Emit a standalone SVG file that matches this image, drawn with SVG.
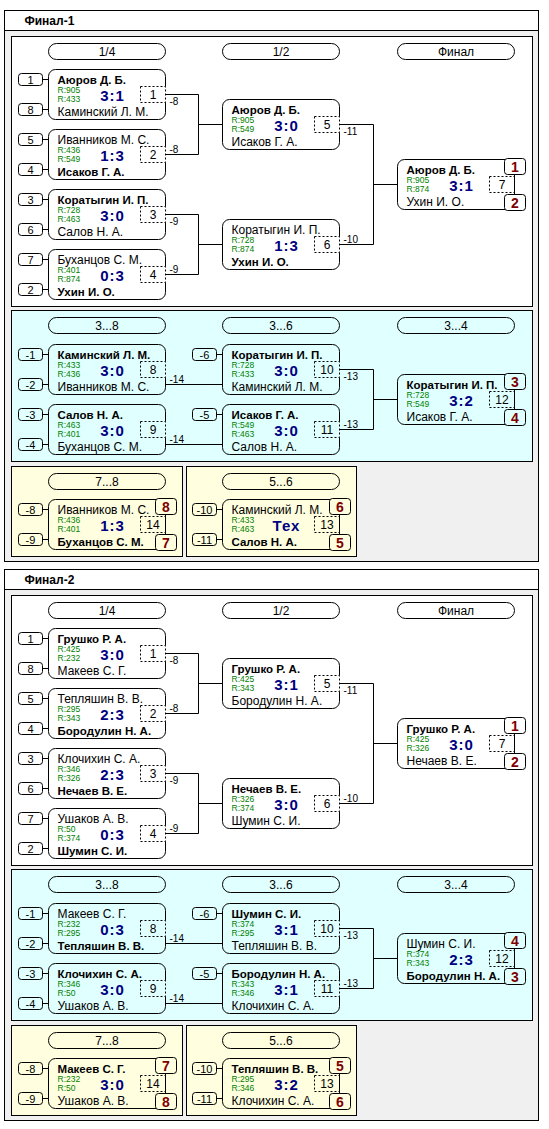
<svg xmlns="http://www.w3.org/2000/svg" width="549" height="1129" viewBox="0 0 549 1129">
<style>
text{font-family:"Liberation Sans",Arial,sans-serif;fill:#000}
.hd{font-size:12px;font-weight:bold}
.pt{font-size:12px;text-anchor:middle}
.w{font-size:11.5px;font-weight:bold}
.l{font-size:12px}
.r{font-size:8.5px;fill:#008000}
.sc{font-size:15px;font-weight:bold;fill:#000080;text-anchor:middle;letter-spacing:1px}
.n{font-size:12px;text-anchor:middle}
.sn{font-size:11px;text-anchor:middle}
.lb{font-size:10px}
.bn{font-size:14px;font-weight:bold;fill:#800000;text-anchor:middle}
.k{fill:none;stroke:#000;stroke-width:1}
.d{fill:none;stroke:#000;stroke-width:1;stroke-dasharray:2 2}
.bw{fill:#fff;stroke:#000}
.bc{fill:#e0ffff;stroke:#000}
.by{fill:#ffffe0;stroke:#000}
.pg{fill:#f0f0f0;stroke:#000}
.ph{fill:#fff;stroke:#000}
</style>
<defs>
<path id="mb" class="k" d="M117 17V7A7 7 0 0 0 110 0H7A7 7 0 0 0 0 7V43A7 7 0 0 0 7 50H110A7 7 0 0 0 117 43V33"/>
<rect id="mf" class="k" width="117" height="50" rx="7"/>
<rect id="nx" class="d" x="92" y="17" width="25" height="16"/>
<rect id="sd" class="k" width="24" height="12" rx="3"/>
<rect id="pl" class="k" width="117" height="16" rx="8"/>
</defs>
<g transform="translate(0.5 0.5)">
<!-- ================= FINAL 1 ================= -->
<g id="final1">
<g id="f1-frame">
<rect class="pg" x="4" y="10" width="534" height="551"/>
<rect class="ph" x="4" y="10" width="534" height="20"/>
<text class="hd" x="24" y="24">Финал-1</text>
<rect class="bw" x="11" y="36" width="521" height="270"/>
<rect class="bc" x="11" y="310" width="521" height="151"/>
<rect class="by" x="11" y="466" width="171" height="90"/>
<rect class="by" x="186" y="466" width="170" height="90"/>
</g>
<g id="f1-headers">
<use href="#pl" x="48" y="43"/><text class="pt" x="106.5" y="55">1/4</text>
<use href="#pl" x="222" y="43"/><text class="pt" x="280.5" y="55">1/2</text>
<use href="#pl" x="397" y="43"/><text class="pt" x="455.5" y="55">Финал</text>
<use href="#pl" x="48" y="317"/><text class="pt" x="106.5" y="329">3...8</text>
<use href="#pl" x="222" y="317"/><text class="pt" x="280.5" y="329">3...6</text>
<use href="#pl" x="397" y="317"/><text class="pt" x="455.5" y="329">3...4</text>
<use href="#pl" x="48" y="473"/><text class="pt" x="106.5" y="485">7...8</text>
<use href="#pl" x="222" y="473"/><text class="pt" x="280.5" y="485">5...6</text>
</g>
<g id="f1-connectors">
<path class="k" d="M165 94H198V154H165M198 124H222"/>
<path class="k" d="M165 214H198V274H165M198 244H222"/>
<path class="k" d="M339 124H373V244H339M373 184H397"/>
<path class="k" d="M165 384H222M165 444H222"/>
<path class="k" d="M339 369H373V429H339M373 399H397"/>
<text class="lb" x="169" y="104">-8</text>
<text class="lb" x="169" y="152">-8</text>
<text class="lb" x="169" y="224">-9</text>
<text class="lb" x="169" y="272">-9</text>
<text class="lb" x="343" y="134">-11</text>
<text class="lb" x="343" y="242">-10</text>
<text class="lb" x="169" y="382">-14</text>
<text class="lb" x="169" y="442">-14</text>
<text class="lb" x="343" y="379">-13</text>
<text class="lb" x="343" y="427">-13</text>
</g>
<g id="f1-m1" transform="translate(48 69)">
<use href="#mb"/><use href="#nx"/>
<text class="w" x="9" y="14">Аюров Д. Б.</text><text class="r" x="9" y="23">R:905</text><text class="r" x="9" y="32.5">R:433</text>
<text class="sc" x="64" y="31">3:1</text><text class="l" x="9" y="46">Каминский Л. М.</text><text class="n" x="104.5" y="29.5">1</text>
<use href="#sd" x="-30" y="4"/><text class="sn" x="-18" y="14">1</text><path class="k" d="M-6 10H0"/>
<use href="#sd" x="-30" y="34"/><text class="sn" x="-18" y="44">8</text><path class="k" d="M-6 40H0"/>
</g>
<g id="f1-m2" transform="translate(48 129)">
<use href="#mb"/><use href="#nx"/>
<text class="l" x="9" y="14">Иванников М. С.</text><text class="r" x="9" y="23">R:436</text><text class="r" x="9" y="32.5">R:549</text>
<text class="sc" x="64" y="31">1:3</text><text class="w" x="9" y="46">Исаков Г. А.</text><text class="n" x="104.5" y="29.5">2</text>
<use href="#sd" x="-30" y="4"/><text class="sn" x="-18" y="14">5</text><path class="k" d="M-6 10H0"/>
<use href="#sd" x="-30" y="34"/><text class="sn" x="-18" y="44">4</text><path class="k" d="M-6 40H0"/>
</g>
<g id="f1-m3" transform="translate(48 189)">
<use href="#mb"/><use href="#nx"/>
<text class="w" x="9" y="14">Коратыгин И. П.</text><text class="r" x="9" y="23">R:728</text><text class="r" x="9" y="32.5">R:463</text>
<text class="sc" x="64" y="31">3:0</text><text class="l" x="9" y="46">Салов Н. А.</text><text class="n" x="104.5" y="29.5">3</text>
<use href="#sd" x="-30" y="4"/><text class="sn" x="-18" y="14">3</text><path class="k" d="M-6 10H0"/>
<use href="#sd" x="-30" y="34"/><text class="sn" x="-18" y="44">6</text><path class="k" d="M-6 40H0"/>
</g>
<g id="f1-m4" transform="translate(48 249)">
<use href="#mb"/><use href="#nx"/>
<text class="l" x="9" y="14">Буханцов С. М.</text><text class="r" x="9" y="23">R:401</text><text class="r" x="9" y="32.5">R:874</text>
<text class="sc" x="64" y="31">0:3</text><text class="w" x="9" y="46">Ухин И. О.</text><text class="n" x="104.5" y="29.5">4</text>
<use href="#sd" x="-30" y="4"/><text class="sn" x="-18" y="14">7</text><path class="k" d="M-6 10H0"/>
<use href="#sd" x="-30" y="34"/><text class="sn" x="-18" y="44">2</text><path class="k" d="M-6 40H0"/>
</g>
<g id="f1-m5" transform="translate(222 99)">
<use href="#mb"/><use href="#nx"/>
<text class="w" x="9" y="14">Аюров Д. Б.</text><text class="r" x="9" y="23">R:905</text><text class="r" x="9" y="32.5">R:549</text>
<text class="sc" x="64" y="31">3:0</text><text class="l" x="9" y="46">Исаков Г. А.</text><text class="n" x="104.5" y="29.5">5</text>
</g>
<g id="f1-m6" transform="translate(222 219)">
<use href="#mb"/><use href="#nx"/>
<text class="l" x="9" y="14">Коратыгин И. П.</text><text class="r" x="9" y="23">R:728</text><text class="r" x="9" y="32.5">R:874</text>
<text class="sc" x="64" y="31">1:3</text><text class="w" x="9" y="46">Ухин И. О.</text><text class="n" x="104.5" y="29.5">6</text>
</g>
<g id="f1-m7" transform="translate(397 159)">
<use href="#mf"/><use href="#nx"/>
<text class="w" x="9" y="14">Аюров Д. Б.</text><text class="r" x="9" y="23">R:905</text><text class="r" x="9" y="32.5">R:874</text>
<text class="sc" x="64" y="31">3:1</text><text class="l" x="9" y="46">Ухин И. О.</text><text class="n" x="104.5" y="29.5">7</text>
<rect class="bw" x="107" y="-1" width="21" height="16" rx="3"/><text class="bn" x="117.5" y="12">1</text>
<rect class="bw" x="107" y="35" width="21" height="16" rx="3"/><text class="bn" x="117.5" y="48">2</text>
</g>
<g id="f1-m8" transform="translate(48 344)">
<use href="#mb"/><use href="#nx"/>
<text class="w" x="9" y="14">Каминский Л. М.</text><text class="r" x="9" y="23">R:433</text><text class="r" x="9" y="32.5">R:436</text>
<text class="sc" x="64" y="31">3:0</text><text class="l" x="9" y="46">Иванников М. С.</text><text class="n" x="104.5" y="29.5">8</text>
<use href="#sd" x="-30" y="4"/><text class="sn" x="-18" y="14">-1</text><path class="k" d="M-6 10H0"/>
<use href="#sd" x="-30" y="34"/><text class="sn" x="-18" y="44">-2</text><path class="k" d="M-6 40H0"/>
</g>
<g id="f1-m9" transform="translate(48 404)">
<use href="#mb"/><use href="#nx"/>
<text class="w" x="9" y="14">Салов Н. А.</text><text class="r" x="9" y="23">R:463</text><text class="r" x="9" y="32.5">R:401</text>
<text class="sc" x="64" y="31">3:0</text><text class="l" x="9" y="46">Буханцов С. М.</text><text class="n" x="104.5" y="29.5">9</text>
<use href="#sd" x="-30" y="4"/><text class="sn" x="-18" y="14">-3</text><path class="k" d="M-6 10H0"/>
<use href="#sd" x="-30" y="34"/><text class="sn" x="-18" y="44">-4</text><path class="k" d="M-6 40H0"/>
</g>
<g id="f1-m10" transform="translate(222 344)">
<use href="#mb"/><use href="#nx"/>
<text class="w" x="9" y="14">Коратыгин И. П.</text><text class="r" x="9" y="23">R:728</text><text class="r" x="9" y="32.5">R:433</text>
<text class="sc" x="64" y="31">3:0</text><text class="l" x="9" y="46">Каминский Л. М.</text><text class="n" x="104.5" y="29.5">10</text>
<use href="#sd" x="-30" y="4"/><text class="sn" x="-18" y="14">-6</text><path class="k" d="M-6 10H0"/>
</g>
<g id="f1-m11" transform="translate(222 404)">
<use href="#mb"/><use href="#nx"/>
<text class="w" x="9" y="14">Исаков Г. А.</text><text class="r" x="9" y="23">R:549</text><text class="r" x="9" y="32.5">R:463</text>
<text class="sc" x="64" y="31">3:0</text><text class="l" x="9" y="46">Салов Н. А.</text><text class="n" x="104.5" y="29.5">11</text>
<use href="#sd" x="-30" y="4"/><text class="sn" x="-18" y="14">-5</text><path class="k" d="M-6 10H0"/>
</g>
<g id="f1-m12" transform="translate(397 374)">
<use href="#mf"/><use href="#nx"/>
<text class="w" x="9" y="14">Коратыгин И. П.</text><text class="r" x="9" y="23">R:728</text><text class="r" x="9" y="32.5">R:549</text>
<text class="sc" x="64" y="31">3:2</text><text class="l" x="9" y="46">Исаков Г. А.</text><text class="n" x="104.5" y="29.5">12</text>
<rect class="bc" x="107" y="-1" width="21" height="16" rx="3"/><text class="bn" x="117.5" y="12">3</text>
<rect class="bc" x="107" y="35" width="21" height="16" rx="3"/><text class="bn" x="117.5" y="48">4</text>
</g>
<g id="f1-m14" transform="translate(48 499)">
<use href="#mf"/><use href="#nx"/>
<text class="l" x="9" y="14">Иванников М. С.</text><text class="r" x="9" y="23">R:436</text><text class="r" x="9" y="32.5">R:401</text>
<text class="sc" x="64" y="31">1:3</text><text class="w" x="9" y="46">Буханцов С. М.</text><text class="n" x="104.5" y="29.5">14</text>
<rect class="by" x="107" y="-1" width="21" height="16" rx="3"/><text class="bn" x="117.5" y="12">8</text>
<rect class="by" x="107" y="35" width="21" height="16" rx="3"/><text class="bn" x="117.5" y="48">7</text>
<use href="#sd" x="-30" y="4"/><text class="sn" x="-18" y="14">-8</text><path class="k" d="M-6 10H0"/>
<use href="#sd" x="-30" y="34"/><text class="sn" x="-18" y="44">-9</text><path class="k" d="M-6 40H0"/>
</g>
<g id="f1-m13" transform="translate(222 499)">
<use href="#mf"/><use href="#nx"/>
<text class="l" x="9" y="14">Каминский Л. М.</text><text class="r" x="9" y="23">R:433</text><text class="r" x="9" y="32.5">R:463</text>
<text class="sc" x="64" y="31">Тех</text><text class="w" x="9" y="46">Салов Н. А.</text><text class="n" x="104.5" y="29.5">13</text>
<rect class="by" x="107" y="-1" width="21" height="16" rx="3"/><text class="bn" x="117.5" y="12">6</text>
<rect class="by" x="107" y="35" width="21" height="16" rx="3"/><text class="bn" x="117.5" y="48">5</text>
<use href="#sd" x="-30" y="4"/><text class="sn" x="-18" y="14">-10</text><path class="k" d="M-6 10H0"/>
<use href="#sd" x="-30" y="34"/><text class="sn" x="-18" y="44">-11</text><path class="k" d="M-6 40H0"/>
</g>
</g>
<!-- ================= FINAL 2 ================= -->
<g id="final2" transform="translate(0 559)">
<g id="f2-frame">
<rect class="pg" x="4" y="10" width="534" height="551"/>
<rect class="ph" x="4" y="10" width="534" height="20"/>
<text class="hd" x="24" y="24">Финал-2</text>
<rect class="bw" x="11" y="36" width="521" height="270"/>
<rect class="bc" x="11" y="310" width="521" height="151"/>
<rect class="by" x="11" y="466" width="171" height="90"/>
<rect class="by" x="186" y="466" width="170" height="90"/>
</g>
<g id="f2-headers">
<use href="#pl" x="48" y="43"/><text class="pt" x="106.5" y="55">1/4</text>
<use href="#pl" x="222" y="43"/><text class="pt" x="280.5" y="55">1/2</text>
<use href="#pl" x="397" y="43"/><text class="pt" x="455.5" y="55">Финал</text>
<use href="#pl" x="48" y="317"/><text class="pt" x="106.5" y="329">3...8</text>
<use href="#pl" x="222" y="317"/><text class="pt" x="280.5" y="329">3...6</text>
<use href="#pl" x="397" y="317"/><text class="pt" x="455.5" y="329">3...4</text>
<use href="#pl" x="48" y="473"/><text class="pt" x="106.5" y="485">7...8</text>
<use href="#pl" x="222" y="473"/><text class="pt" x="280.5" y="485">5...6</text>
</g>
<g id="f2-connectors">
<path class="k" d="M165 94H198V154H165M198 124H222"/>
<path class="k" d="M165 214H198V274H165M198 244H222"/>
<path class="k" d="M339 124H373V244H339M373 184H397"/>
<path class="k" d="M165 384H222M165 444H222"/>
<path class="k" d="M339 369H373V429H339M373 399H397"/>
<text class="lb" x="169" y="104">-8</text>
<text class="lb" x="169" y="152">-8</text>
<text class="lb" x="169" y="224">-9</text>
<text class="lb" x="169" y="272">-9</text>
<text class="lb" x="343" y="134">-11</text>
<text class="lb" x="343" y="242">-10</text>
<text class="lb" x="169" y="382">-14</text>
<text class="lb" x="169" y="442">-14</text>
<text class="lb" x="343" y="379">-13</text>
<text class="lb" x="343" y="427">-13</text>
</g>
<g id="f2-m1" transform="translate(48 69)">
<use href="#mb"/><use href="#nx"/>
<text class="w" x="9" y="14">Грушко Р. А.</text><text class="r" x="9" y="23">R:425</text><text class="r" x="9" y="32.5">R:232</text>
<text class="sc" x="64" y="31">3:0</text><text class="l" x="9" y="46">Макеев С. Г.</text><text class="n" x="104.5" y="29.5">1</text>
<use href="#sd" x="-30" y="4"/><text class="sn" x="-18" y="14">1</text><path class="k" d="M-6 10H0"/>
<use href="#sd" x="-30" y="34"/><text class="sn" x="-18" y="44">8</text><path class="k" d="M-6 40H0"/>
</g>
<g id="f2-m2" transform="translate(48 129)">
<use href="#mb"/><use href="#nx"/>
<text class="l" x="9" y="14">Тепляшин В. В.</text><text class="r" x="9" y="23">R:295</text><text class="r" x="9" y="32.5">R:343</text>
<text class="sc" x="64" y="31">2:3</text><text class="w" x="9" y="46">Бородулин Н. А.</text><text class="n" x="104.5" y="29.5">2</text>
<use href="#sd" x="-30" y="4"/><text class="sn" x="-18" y="14">5</text><path class="k" d="M-6 10H0"/>
<use href="#sd" x="-30" y="34"/><text class="sn" x="-18" y="44">4</text><path class="k" d="M-6 40H0"/>
</g>
<g id="f2-m3" transform="translate(48 189)">
<use href="#mb"/><use href="#nx"/>
<text class="l" x="9" y="14">Клочихин С. А.</text><text class="r" x="9" y="23">R:346</text><text class="r" x="9" y="32.5">R:326</text>
<text class="sc" x="64" y="31">2:3</text><text class="w" x="9" y="46">Нечаев В. Е.</text><text class="n" x="104.5" y="29.5">3</text>
<use href="#sd" x="-30" y="4"/><text class="sn" x="-18" y="14">3</text><path class="k" d="M-6 10H0"/>
<use href="#sd" x="-30" y="34"/><text class="sn" x="-18" y="44">6</text><path class="k" d="M-6 40H0"/>
</g>
<g id="f2-m4" transform="translate(48 249)">
<use href="#mb"/><use href="#nx"/>
<text class="l" x="9" y="14">Ушаков А. В.</text><text class="r" x="9" y="23">R:50</text><text class="r" x="9" y="32.5">R:374</text>
<text class="sc" x="64" y="31">0:3</text><text class="w" x="9" y="46">Шумин С. И.</text><text class="n" x="104.5" y="29.5">4</text>
<use href="#sd" x="-30" y="4"/><text class="sn" x="-18" y="14">7</text><path class="k" d="M-6 10H0"/>
<use href="#sd" x="-30" y="34"/><text class="sn" x="-18" y="44">2</text><path class="k" d="M-6 40H0"/>
</g>
<g id="f2-m5" transform="translate(222 99)">
<use href="#mb"/><use href="#nx"/>
<text class="w" x="9" y="14">Грушко Р. А.</text><text class="r" x="9" y="23">R:425</text><text class="r" x="9" y="32.5">R:343</text>
<text class="sc" x="64" y="31">3:1</text><text class="l" x="9" y="46">Бородулин Н. А.</text><text class="n" x="104.5" y="29.5">5</text>
</g>
<g id="f2-m6" transform="translate(222 219)">
<use href="#mb"/><use href="#nx"/>
<text class="w" x="9" y="14">Нечаев В. Е.</text><text class="r" x="9" y="23">R:326</text><text class="r" x="9" y="32.5">R:374</text>
<text class="sc" x="64" y="31">3:0</text><text class="l" x="9" y="46">Шумин С. И.</text><text class="n" x="104.5" y="29.5">6</text>
</g>
<g id="f2-m7" transform="translate(397 159)">
<use href="#mf"/><use href="#nx"/>
<text class="w" x="9" y="14">Грушко Р. А.</text><text class="r" x="9" y="23">R:425</text><text class="r" x="9" y="32.5">R:326</text>
<text class="sc" x="64" y="31">3:0</text><text class="l" x="9" y="46">Нечаев В. Е.</text><text class="n" x="104.5" y="29.5">7</text>
<rect class="bw" x="107" y="-1" width="21" height="16" rx="3"/><text class="bn" x="117.5" y="12">1</text>
<rect class="bw" x="107" y="35" width="21" height="16" rx="3"/><text class="bn" x="117.5" y="48">2</text>
</g>
<g id="f2-m8" transform="translate(48 344)">
<use href="#mb"/><use href="#nx"/>
<text class="l" x="9" y="14">Макеев С. Г.</text><text class="r" x="9" y="23">R:232</text><text class="r" x="9" y="32.5">R:295</text>
<text class="sc" x="64" y="31">0:3</text><text class="w" x="9" y="46">Тепляшин В. В.</text><text class="n" x="104.5" y="29.5">8</text>
<use href="#sd" x="-30" y="4"/><text class="sn" x="-18" y="14">-1</text><path class="k" d="M-6 10H0"/>
<use href="#sd" x="-30" y="34"/><text class="sn" x="-18" y="44">-2</text><path class="k" d="M-6 40H0"/>
</g>
<g id="f2-m9" transform="translate(48 404)">
<use href="#mb"/><use href="#nx"/>
<text class="w" x="9" y="14">Клочихин С. А.</text><text class="r" x="9" y="23">R:346</text><text class="r" x="9" y="32.5">R:50</text>
<text class="sc" x="64" y="31">3:0</text><text class="l" x="9" y="46">Ушаков А. В.</text><text class="n" x="104.5" y="29.5">9</text>
<use href="#sd" x="-30" y="4"/><text class="sn" x="-18" y="14">-3</text><path class="k" d="M-6 10H0"/>
<use href="#sd" x="-30" y="34"/><text class="sn" x="-18" y="44">-4</text><path class="k" d="M-6 40H0"/>
</g>
<g id="f2-m10" transform="translate(222 344)">
<use href="#mb"/><use href="#nx"/>
<text class="w" x="9" y="14">Шумин С. И.</text><text class="r" x="9" y="23">R:374</text><text class="r" x="9" y="32.5">R:295</text>
<text class="sc" x="64" y="31">3:1</text><text class="l" x="9" y="46">Тепляшин В. В.</text><text class="n" x="104.5" y="29.5">10</text>
<use href="#sd" x="-30" y="4"/><text class="sn" x="-18" y="14">-6</text><path class="k" d="M-6 10H0"/>
</g>
<g id="f2-m11" transform="translate(222 404)">
<use href="#mb"/><use href="#nx"/>
<text class="w" x="9" y="14">Бородулин Н. А.</text><text class="r" x="9" y="23">R:343</text><text class="r" x="9" y="32.5">R:346</text>
<text class="sc" x="64" y="31">3:1</text><text class="l" x="9" y="46">Клочихин С. А.</text><text class="n" x="104.5" y="29.5">11</text>
<use href="#sd" x="-30" y="4"/><text class="sn" x="-18" y="14">-5</text><path class="k" d="M-6 10H0"/>
</g>
<g id="f2-m12" transform="translate(397 374)">
<use href="#mf"/><use href="#nx"/>
<text class="l" x="9" y="14">Шумин С. И.</text><text class="r" x="9" y="23">R:374</text><text class="r" x="9" y="32.5">R:343</text>
<text class="sc" x="64" y="31">2:3</text><text class="w" x="9" y="46">Бородулин Н. А.</text><text class="n" x="104.5" y="29.5">12</text>
<rect class="bc" x="107" y="-1" width="21" height="16" rx="3"/><text class="bn" x="117.5" y="12">4</text>
<rect class="bc" x="107" y="35" width="21" height="16" rx="3"/><text class="bn" x="117.5" y="48">3</text>
</g>
<g id="f2-m14" transform="translate(48 499)">
<use href="#mf"/><use href="#nx"/>
<text class="w" x="9" y="14">Макеев С. Г.</text><text class="r" x="9" y="23">R:232</text><text class="r" x="9" y="32.5">R:50</text>
<text class="sc" x="64" y="31">3:0</text><text class="l" x="9" y="46">Ушаков А. В.</text><text class="n" x="104.5" y="29.5">14</text>
<rect class="by" x="107" y="-1" width="21" height="16" rx="3"/><text class="bn" x="117.5" y="12">7</text>
<rect class="by" x="107" y="35" width="21" height="16" rx="3"/><text class="bn" x="117.5" y="48">8</text>
<use href="#sd" x="-30" y="4"/><text class="sn" x="-18" y="14">-8</text><path class="k" d="M-6 10H0"/>
<use href="#sd" x="-30" y="34"/><text class="sn" x="-18" y="44">-9</text><path class="k" d="M-6 40H0"/>
</g>
<g id="f2-m13" transform="translate(222 499)">
<use href="#mf"/><use href="#nx"/>
<text class="w" x="9" y="14">Тепляшин В. В.</text><text class="r" x="9" y="23">R:295</text><text class="r" x="9" y="32.5">R:346</text>
<text class="sc" x="64" y="31">3:2</text><text class="l" x="9" y="46">Клочихин С. А.</text><text class="n" x="104.5" y="29.5">13</text>
<rect class="by" x="107" y="-1" width="21" height="16" rx="3"/><text class="bn" x="117.5" y="12">5</text>
<rect class="by" x="107" y="35" width="21" height="16" rx="3"/><text class="bn" x="117.5" y="48">6</text>
<use href="#sd" x="-30" y="4"/><text class="sn" x="-18" y="14">-10</text><path class="k" d="M-6 10H0"/>
<use href="#sd" x="-30" y="34"/><text class="sn" x="-18" y="44">-11</text><path class="k" d="M-6 40H0"/>
</g>
</g>
</g>
</svg>
